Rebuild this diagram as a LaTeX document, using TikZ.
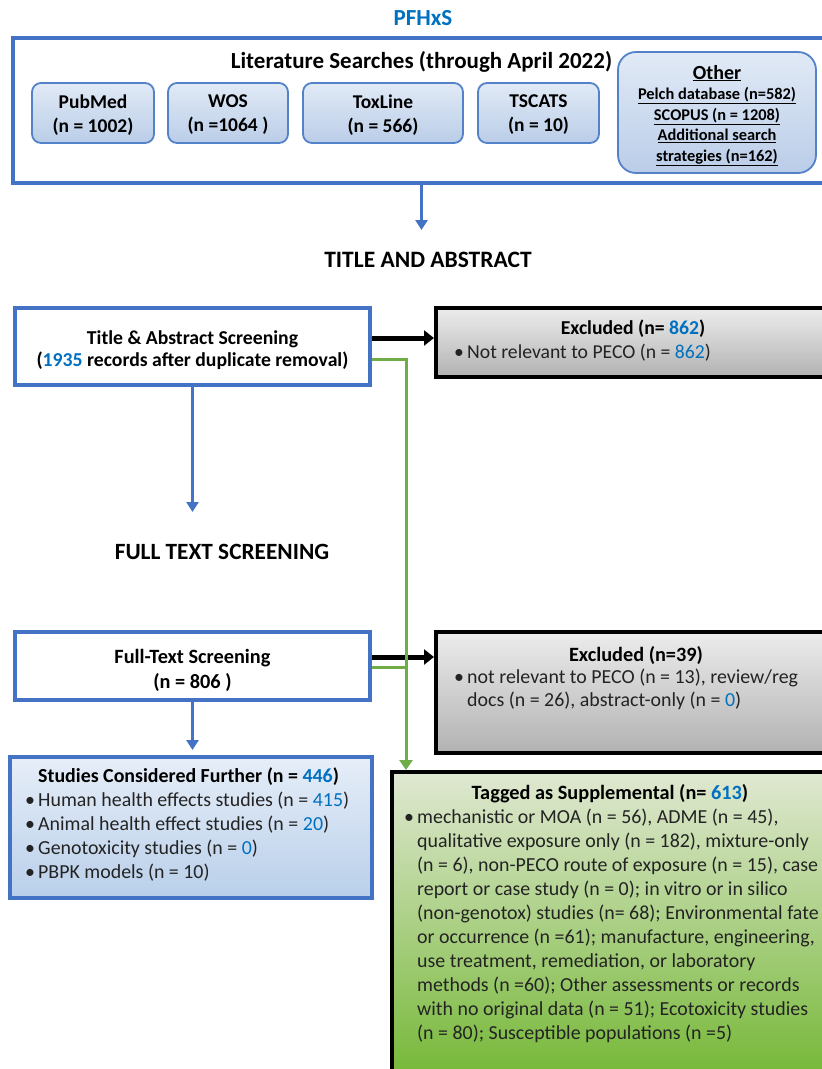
\documentclass[tikz,border=0pt]{standalone}
\usepackage{fontspec}
\setmainfont{Carlito}
\usetikzlibrary{arrows.meta,calc}
\definecolor{boxblue}{RGB}{68,114,196}
\definecolor{numblue}{RGB}{0,112,192}
\definecolor{srcborder}{RGB}{84,130,200}
\definecolor{srctop}{RGB}{225,234,246}
\definecolor{srcbot}{RGB}{186,205,232}
\definecolor{lgreen}{RGB}{112,173,71}
\definecolor{exTop}{RGB}{236,236,236}
\definecolor{exBot}{RGB}{178,178,178}
\definecolor{stTop}{RGB}{230,238,248}
\definecolor{stBot}{RGB}{185,207,234}
\definecolor{tagTop}{RGB}{224,232,210}
\definecolor{tagMid}{RGB}{198,221,166}
\definecolor{tagBot}{RGB}{118,184,56}
\definecolor{bodytext}{RGB}{35,35,35}
\newcommand\nb[1]{\textcolor{numblue}{#1}}
\newcommand\fs[2]{\fontsize{#1}{#2}\selectfont}
\newcommand\bul{\makebox[13pt][l]{•}}
\newcommand\ind{\hspace*{13pt}}
\begin{document}
\begin{tikzpicture}[x=1pt,y=-1pt,
  srcbox/.style={draw=srcborder, line width=1.8pt, rounded corners=9pt, top color=srctop, bottom color=srcbot, inner sep=0pt},
  srctxt/.style={align=center, inner sep=0pt, font=\bfseries\fs{19.5}{24}},
  bluebox/.style={draw=boxblue, line width=4pt, inner sep=0pt},
  blackbox/.style={draw=black, line width=4pt, inner sep=0pt},
  txt/.style={inner sep=0pt},
  bluearr/.style={draw=boxblue, line width=3pt, -{Triangle[length=10pt,width=12pt]}},
  blackarr/.style={draw=black, line width=5pt, -{Triangle[length=10pt,width=15pt]}},
  greenarr/.style={draw=lgreen, line width=3pt, -{Triangle[length=10pt,width=13pt]}},
  greenline/.style={draw=lgreen, line width=3pt}]
\useasboundingbox (0,0) rectangle (822,1069);
\clip (0,0) rectangle (822,1069);

% Top: literature searches
\node[txt, font=\bfseries\fs{23}{26}, text=numblue] (pf) at (423,18) {PFHxS};
\node[bluebox, minimum width=817pt, minimum height=145pt] (lit) at (421.5,110.5) {};
\node[txt, font=\bfseries\fs{23}{26}] (littitle) at (421.5,62) {Literature Searches (through April 2022)};
\node[srcbox, minimum width=122pt, minimum height=60pt] (pubmed) at (93,113) {};
\node[srcbox, minimum width=120pt, minimum height=60pt] (wos) at (228,113) {};
\node[srcbox, minimum width=160pt, minimum height=60pt] (tox) at (383,113) {};
\node[srcbox, minimum width=121pt, minimum height=60pt] (tscats) at (538.5,113) {};
\node[srcbox, minimum width=198pt, minimum height=121pt, rounded corners=18pt] (other) at (717,112.5) {};
\node[srctxt] (pubmedt) at (93,115) {PubMed\\(n = 1002)};
\node[srctxt] (wost) at (228,115) {WOS\\(n =1064 )};
\node[srctxt] (toxt) at (383,115) {ToxLine\\(n = 566)};
\node[srctxt] (tscatst) at (538.5,115) {TSCATS\\(n = 10)};
\node[srctxt, font=\bfseries\fs{16.4}{20.5}] (othert) at (717,115.5)
  {{\fs{20}{22}\underline{Other}}\\\underline{Pelch database (n=582)}\\\underline{SCOPUS (n = 1208)}\\\underline{Additional search}\\\underline{strategies (n=162)}};

\coordinate (a1) at (421.5,230);
\node[txt, font=\bfseries\fs{23.5}{26}] (tahead) at (428,260) {TITLE AND ABSTRACT};

% Title & abstract
\node[bluebox, fill=white, minimum width=355pt, minimum height=77pt] (ta) at (192.5,346.5) {};
\node[txt, align=center, font=\bfseries\fs{19.7}{22.5}] (tat) at (192.5,350)
  {Title \& Abstract Screening\\(\nb{1935} records after duplicate removal)};
\node[blackbox, top color=exTop, bottom color=exBot, minimum width=394pt, minimum height=69pt] (ex1) at (633,342.5) {};
\node[txt, font=\bfseries\fs{19.7}{22}] (ex1t) at (633,329) {Excluded (n= \nb{862})};
\node[txt, anchor=base west, font=\fs{19.7}{22}, text=bodytext] (ex1b) at (454,358) {\bul Not relevant to PECO (n = \nb{862})};

\coordinate (a2) at (192.5,512);
\node[txt, font=\bfseries\fs{23.3}{26}] (fthead) at (222,552) {FULL TEXT SCREENING};

% Full text
\node[bluebox, fill=white, minimum width=355pt, minimum height=68pt] (ft) at (192.5,666) {};
\node[txt, align=center, font=\bfseries\fs{20.3}{25}] (ftt) at (192.5,670) {Full-Text Screening\\(n = 806 )};
\node[blackbox, top color=exTop, bottom color=exBot, minimum width=394pt, minimum height=121pt] (ex2) at (633,692.5) {};
\node[txt, font=\bfseries\fs{20.3}{22}] (ex2t) at (636,655) {Excluded (n=39)};
\node[txt, anchor=north west, align=left, font=\fs{19.9}{23}, text=bodytext] (ex2b) at (454,669)
  {\bul not relevant to PECO (n = 13), review/reg\\\ind docs (n = 26), abstract-only (n = \nb{0})};

% Studies considered further
\node[bluebox, top color=stTop, bottom color=stBot, minimum width=362pt, minimum height=141pt] (sc) at (191,827.5) {};
\node[txt, anchor=north west, align=left, font=\fs{19.9}{24}, text=bodytext] (sct) at (25,767.5)
  {\ind\textbf{\textcolor{black}{Studies Considered Further (n = \nb{446})}}\\
   \bul Human health effects studies (n = \nb{415})\\
   \bul Animal health effect studies (n = \nb{20})\\
   \bul Genotoxicity studies (n = \nb{0})\\
   \bul PBPK models (n = 10)};

% Tagged as supplemental
\node[blackbox, top color=tagTop, middle color=tagMid, bottom color=tagBot, minimum width=438pt, minimum height=303pt] (tag) at (611,923.5) {};
\node[txt, font=\bfseries\fs{20.3}{24}] (tagt) at (610,794) {Tagged as Supplemental (n= \nb{613})};
\node[txt, anchor=north west, align=left, font=\fs{19.9}{24}, text=bodytext] (tagb) at (404,809)
  {\bul mechanistic or MOA (n = 56), ADME (n = 45),\\
   \ind qualitative exposure only (n = 182), mixture-only\\
   \ind (n = 6), non-PECO route of exposure (n = 15), case\\
   \ind report or case study (n = 0); in vitro or in silico\\
   \ind (non-genotox) studies (n= 68); Environmental fate\\
   \ind or occurrence (n =61); manufacture, engineering,\\
   \ind use treatment, remediation, or laboratory\\
   \ind methods (n =60); Other assessments or records\\
   \ind with no original data (n = 51); Ecotoxicity studies\\
   \ind (n = 80); Susceptible populations (n =5)};

% Connectors
\draw[bluearr] (lit.south) -- (a1);
\path (ta.east) ++(0,-8.5) coordinate (ta1);
\path (ta.east) ++(0,12.5) coordinate (ta2);
\path (ft.east) ++(0,-9) coordinate (ft1);
\path (ft.east) ++(0,1) coordinate (ft2);
\path (tag.north west) ++(16,0) coordinate (gtop);
\draw[blackarr] (ta1) -- (ta1 -| ex1.west);
\draw[blackarr] (ft1) -- (ft1 -| ex2.west);
\draw[bluearr] (ta.south) -- (a2);
\draw[bluearr, shorten >=5pt] (ft.south) -- (sc.north -| ft.south);
\draw[greenarr] (ta2) -| (gtop);
\draw[greenline] (ft2) -- (ft2 -| gtop);
\end{tikzpicture}
\end{document}
